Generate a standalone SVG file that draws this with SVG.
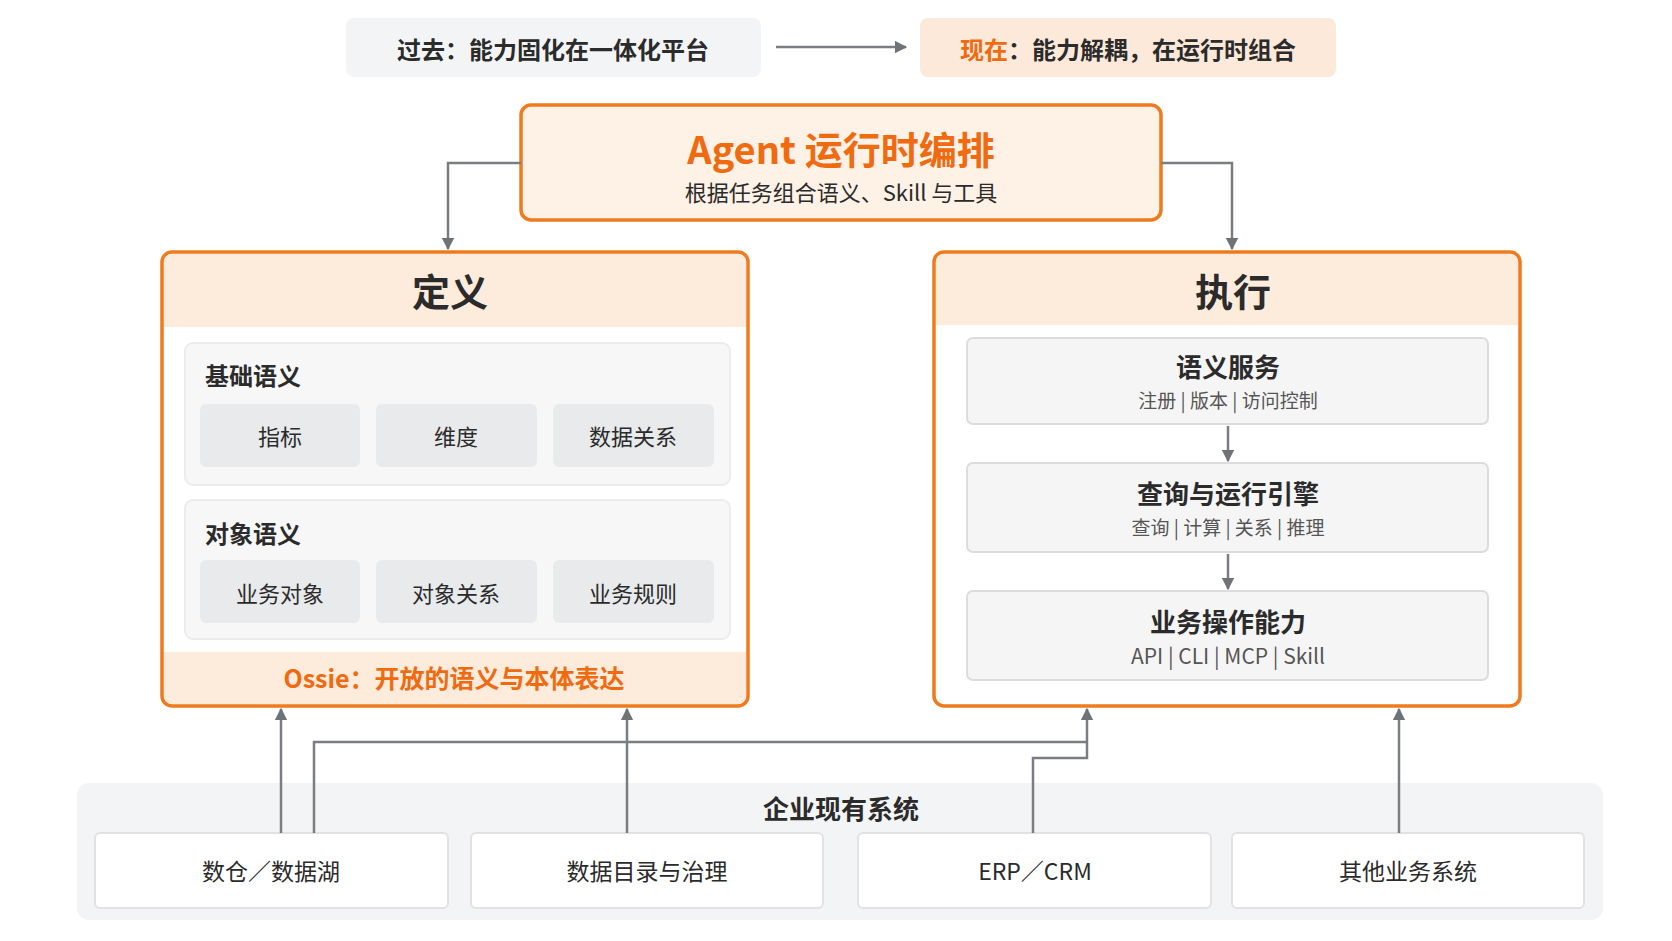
<svg xmlns="http://www.w3.org/2000/svg" width="1672" height="941" viewBox="0 0 1672 941">
<style>
text{font-family:"Noto Sans CJK SC","Noto Sans",sans-serif;text-anchor:middle;dominant-baseline:central;fill:#2b2b2b}
.ob{fill:#fff;stroke:#F07A1E;stroke-width:3.5}
.hd{fill:#FDEBDC}
.sub{fill:#F7F7F8;stroke:#ECECEE;stroke-width:2}
.chip{fill:#E8EAEC}
.svc{fill:#F5F5F6;stroke:#DCDCDE;stroke-width:2}
.sys{fill:#fff;stroke:#E2E2E4;stroke-width:2}
.ln{fill:none;stroke:#7a7d82;stroke-width:2.5}
.b{font-weight:700}
</style>
<defs><marker id="ar" viewBox="0 0 10 10" refX="9" refY="5" markerWidth="5" markerHeight="5" orient="auto"><path d="M0,0L10,5L0,10z" fill="#6f7276"/></marker></defs>
<rect width="1672" height="941" fill="#fff"/>
<g id="past"><rect x="346" y="18" width="415" height="59" rx="8" fill="#F3F4F5"/><text x="553" y="48" font-size="24" class="b">过去：能力固化在一体化平台</text></g>
<g id="now"><rect x="920" y="18" width="416" height="59" rx="8" fill="#FDE9D9"/><text x="1128" y="48" font-size="24" class="b"><tspan fill="#F06A10">现在</tspan>：能力解耦，在运行时组合</text></g>
<g id="agent"><rect x="521" y="105" width="640" height="115" rx="10" class="ob" fill="#FEF1E6" style="fill:#FEF1E6"/>
<text x="841" y="147" font-size="38" class="b" style="fill:#F06A10">Agent 运行时编排</text>
<text x="841" y="191" font-size="22">根据任务组合语义、Skill 与工具</text></g>
<g id="def"><rect x="162" y="252" width="586" height="454" rx="10" class="ob"/>
<path d="M164,327V262a8,8 0 0 1 8,-8H738a8,8 0 0 1 8,8V327z" class="hd"/>
<path d="M164,652H746V696a8,8 0 0 1 -8,8H172a8,8 0 0 1 -8,-8z" class="hd"/>
<text x="450" y="289" font-size="38" class="b">定义</text>
<rect x="185" y="343" width="545" height="142" rx="8" class="sub"/>
<text x="205" y="374" font-size="24" class="b" style="text-anchor:start">基础语义</text>
<rect x="200" y="404" width="160" height="63" rx="6" class="chip"/><text x="280" y="435" font-size="22">指标</text>
<rect x="376" y="404" width="161" height="63" rx="6" class="chip"/><text x="456" y="435" font-size="22">维度</text>
<rect x="553" y="404" width="161" height="63" rx="6" class="chip"/><text x="633" y="435" font-size="22">数据关系</text>
<rect x="185" y="500" width="545" height="139" rx="8" class="sub"/>
<text x="205" y="532" font-size="24" class="b" style="text-anchor:start">对象语义</text>
<rect x="200" y="560" width="160" height="63" rx="6" class="chip"/><text x="280" y="592" font-size="22">业务对象</text>
<rect x="376" y="560" width="161" height="63" rx="6" class="chip"/><text x="456" y="592" font-size="22">对象关系</text>
<rect x="553" y="560" width="161" height="63" rx="6" class="chip"/><text x="633" y="592" font-size="22">业务规则</text>
<text x="454" y="677" font-size="25" class="b" style="fill:#F06A10">Ossie：开放的语义与本体表达</text></g>
<g id="exec"><rect x="934" y="252" width="586" height="454" rx="10" class="ob"/>
<path d="M936,325V262a8,8 0 0 1 8,-8H1510a8,8 0 0 1 8,8V325z" class="hd"/>
<text x="1233" y="289" font-size="38" class="b">执行</text>
<rect x="967" y="338" width="521" height="86" rx="6" class="svc"/>
<text x="1228" y="365" font-size="26" class="b">语义服务</text><text x="1228" y="399" font-size="19" style="fill:#555">注册 | 版本 | 访问控制</text>
<rect x="967" y="463" width="521" height="89" rx="6" class="svc"/>
<text x="1228" y="492" font-size="26" class="b">查询与运行引擎</text><text x="1228" y="526" font-size="19" style="fill:#555">查询 | 计算 | 关系 | 推理</text>
<rect x="967" y="591" width="521" height="89" rx="6" class="svc"/>
<text x="1228" y="620" font-size="26" class="b">业务操作能力</text><text x="1228" y="655" font-size="21" style="fill:#555">API | CLI | MCP | Skill</text></g>
<g id="systems"><rect x="77" y="783" width="1526" height="137" rx="12" fill="#F3F4F5"/>
<text x="841" y="807" font-size="26" class="b">企业现有系统</text>
<rect x="95" y="833" width="353" height="75" rx="5" class="sys"/><text x="271" y="870" font-size="23">数仓／数据湖</text>
<rect x="471" y="833" width="352" height="75" rx="5" class="sys"/><text x="647" y="870" font-size="23">数据目录与治理</text>
<rect x="858" y="833" width="353" height="75" rx="5" class="sys"/><text x="1035" y="870" font-size="23">ERP／CRM</text>
<rect x="1232" y="833" width="352" height="75" rx="5" class="sys"/><text x="1408" y="870" font-size="23">其他业务系统</text></g>
<g id="connectors">
<path d="M776,47H906" class="ln" marker-end="url(#ar)"/>
<path d="M521,163H448V249" class="ln" marker-end="url(#ar)"/>
<path d="M1161,163H1232V249" class="ln" marker-end="url(#ar)"/>
<path d="M1228,426V461" class="ln" marker-end="url(#ar)"/>
<path d="M1228,554V589" class="ln" marker-end="url(#ar)"/>
<path d="M281,833V709" class="ln" marker-end="url(#ar)"/>
<path d="M314,833V742H1087" class="ln"/>
<path d="M1033,833V758H1087V709" class="ln" marker-end="url(#ar)"/>
<path d="M627,833V709" class="ln" marker-end="url(#ar)"/>
<path d="M1399,833V709" class="ln" marker-end="url(#ar)"/>
</g>
</svg>
